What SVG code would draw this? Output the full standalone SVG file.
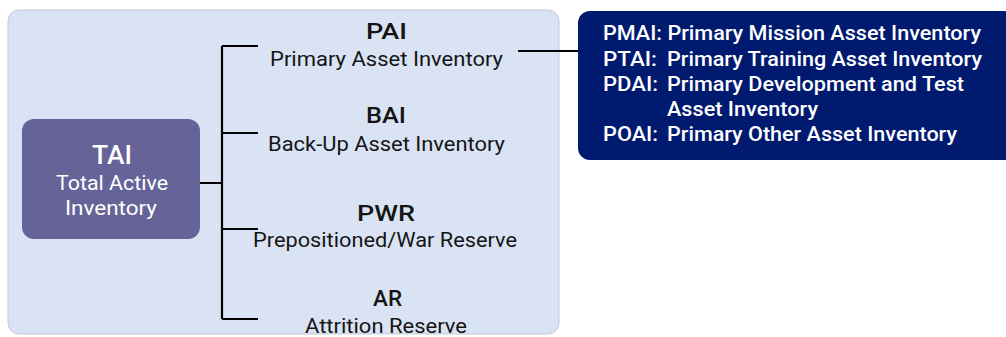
<svg xmlns="http://www.w3.org/2000/svg" width="1006" height="337" viewBox="0 0 1006 337">
<style>
.t{font-family:Roboto,"Liberation Sans",sans-serif;fill:#151515}
.h{font-size:22px;font-weight:500}
.s{font-size:20.5px}
.w{font-family:Roboto,"Liberation Sans",sans-serif;fill:#ffffff}
.c{fill:none;stroke:#000;stroke-width:2.2}
.r{font-size:20px;font-weight:500}
</style>
<rect width="1006" height="337" fill="#ffffff"/>
<g id="panel"><rect x="8" y="10" width="551" height="324" rx="11" fill="#dae3f3" stroke="#c3cbd9" stroke-width="1"/></g>
<g id="connectors">
<path class="c" d="M200 183H222M222 46V319M222 46H258M222 133H258M222 229H258M222 319H258M518 51H580"/>
</g>
<g id="tai">
<rect x="22" y="119" width="178" height="120" rx="12" fill="#656397"/>
<text class="w" x="92" y="164" font-size="25" font-weight="500" textLength="40" lengthAdjust="spacingAndGlyphs">TAI</text>
<text class="w" x="56" y="190" font-size="20" textLength="112" lengthAdjust="spacingAndGlyphs">Total Active</text>
<text class="w" x="65" y="215" font-size="20" textLength="92" lengthAdjust="spacingAndGlyphs">Inventory</text>
</g>
<g id="pai">
<text class="t h" x="366" y="39" textLength="41" lengthAdjust="spacingAndGlyphs">PAI</text>
<text class="t s" x="270" y="66" textLength="233" lengthAdjust="spacingAndGlyphs">Primary Asset Inventory</text>
</g>
<g id="bai">
<text class="t h" x="366" y="123" textLength="40" lengthAdjust="spacingAndGlyphs">BAI</text>
<text class="t s" x="268" y="151" textLength="237" lengthAdjust="spacingAndGlyphs">Back-Up Asset Inventory</text>
</g>
<g id="pwr">
<text class="t h" x="357" y="221" textLength="58" lengthAdjust="spacingAndGlyphs">PWR</text>
<text class="t s" x="253" y="247" textLength="264" lengthAdjust="spacingAndGlyphs">Prepositioned/War Reserve</text>
</g>
<g id="ar">
<text class="t h" x="373" y="306" textLength="29" lengthAdjust="spacingAndGlyphs">AR</text>
<text class="t s" x="305" y="333" textLength="162" lengthAdjust="spacingAndGlyphs">Attrition Reserve</text>
</g>
<g id="pai-detail">
<rect x="578" y="11" width="440" height="149" rx="12" fill="#001a70"/>
<text class="w r" x="603" y="40" textLength="378" lengthAdjust="spacingAndGlyphs">PMAI: Primary Mission Asset Inventory</text>
<text class="w r" x="603" y="66" textLength="54" lengthAdjust="spacingAndGlyphs">PTAI:</text><text class="w r" x="667" y="66" textLength="315" lengthAdjust="spacingAndGlyphs">Primary Training Asset Inventory</text>
<text class="w r" x="603" y="91" textLength="55" lengthAdjust="spacingAndGlyphs">PDAI:</text><text class="w r" x="667" y="91" textLength="297" lengthAdjust="spacingAndGlyphs">Primary Development and Test</text>
<text class="w r" x="667" y="116" textLength="151" lengthAdjust="spacingAndGlyphs">Asset Inventory</text>
<text class="w r" x="603" y="141" textLength="55" lengthAdjust="spacingAndGlyphs">POAI:</text><text class="w r" x="667" y="141" textLength="290" lengthAdjust="spacingAndGlyphs">Primary Other Asset Inventory</text>
</g>
</svg>
